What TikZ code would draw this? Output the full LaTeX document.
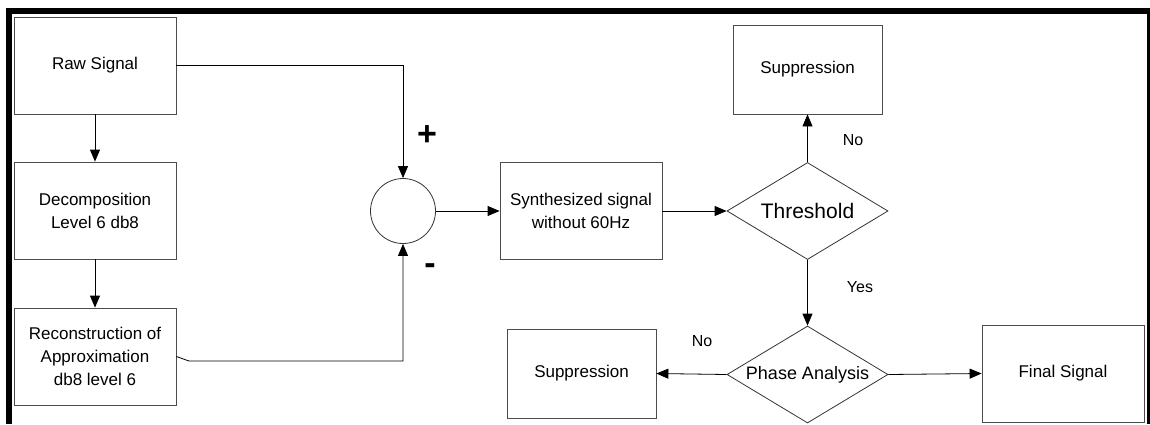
\documentclass[tikz,border=0pt]{standalone}
\usepackage{fontspec}
\setmainfont{Liberation Sans}
\usepackage{tikz}
\usetikzlibrary{shapes.geometric,arrows.meta,positioning,calc}
\tikzset{
  B/.style={draw=black!70, rectangle, align=center, line width=0.8pt,
            font=\fontsize{17}{23}\selectfont, minimum width=162pt,
            minimum height=97pt, inner sep=2pt},
  D/.style={draw=black!80, diamond, aspect=1.66, align=center, line width=0.8pt,
            minimum width=161pt, minimum height=97pt, inner sep=0pt},
  SA/.style={-{Triangle[length=12pt,width=10pt]}, line width=0.8pt},
  L/.style={font=\fontsize{16}{18}\selectfont}
}

\begin{document}
\begin{tikzpicture}[x=1pt,y=-1pt]
\useasboundingbox (0,0) rectangle (1150,424);

% ---- frame ----
\draw[line width=6pt] (9,424) -- (9,11) -- (1150,11);
\draw[line width=3pt] (1148.5,8) -- (1148.5,424);

% ---- left column ----
\node[B] (RAW) at (95,65.5) {Raw Signal};
\node[B] (DEC) at (95,210.5) {Decomposition\\ Level 6 db8};
\node[B] (REC) at (95,356.5) {Reconstruction of\\ Approximation\\ db8 level 6};

% ---- subtraction ----
\node[draw=black!80, circle, line width=0.8pt, minimum size=65pt] (SUM) at (403,211) {};
\node[font=\fontsize{34}{34}\selectfont\bfseries] (PLUS) at (427,136) {+};
\node[font=\fontsize{34}{34}\selectfont\bfseries] (MINUS) at (430,269) {-};

% ---- middle / right ----
\node[B] (SYN) at (581,211) {Synthesized signal\\ without 60Hz};
\node[D, font=\fontsize{21}{23}\selectfont] (THR) at (807.5,211) {Threshold};
\node[B, minimum width=149pt, minimum height=89pt] (SUP1) at (807.5,69.5) {Suppression};
\node[D, font=\fontsize{18}{20}\selectfont] (PHA) at (807.5,374.5) {Phase Analysis};
\node[B, minimum width=149pt, minimum height=89pt] (SUP2) at (581.5,373.5) {Suppression};
\node[B] (FIN) at (1063,373.5) {Final Signal};

% ---- labels ----
\node[L] (NO1) at (853,140) {No};
\node[L] (YES) at (860,287) {Yes};
\node[L] (NO2) at (702,341) {No};

% ---- arrows ----
\coordinate (KINK) at (189,361);
\draw[SA] (RAW.east) -| (SUM.north);
\draw[SA] (RAW) -- (DEC);
\draw[SA] (DEC) -- (REC);
\draw[SA] (REC.east) -- (KINK) -| (SUM.south);
\draw[SA] (SUM) -- (SYN);
\draw[SA] (SYN) -- (THR);
\draw[SA] (THR.north) -- (SUP1.south);
\draw[SA] (THR.south) -- (PHA.north);
\draw[SA] (PHA.west) -- (SUP2.east);
\draw[SA] (PHA.east) -- (FIN.west);

\end{tikzpicture}
\end{document}
